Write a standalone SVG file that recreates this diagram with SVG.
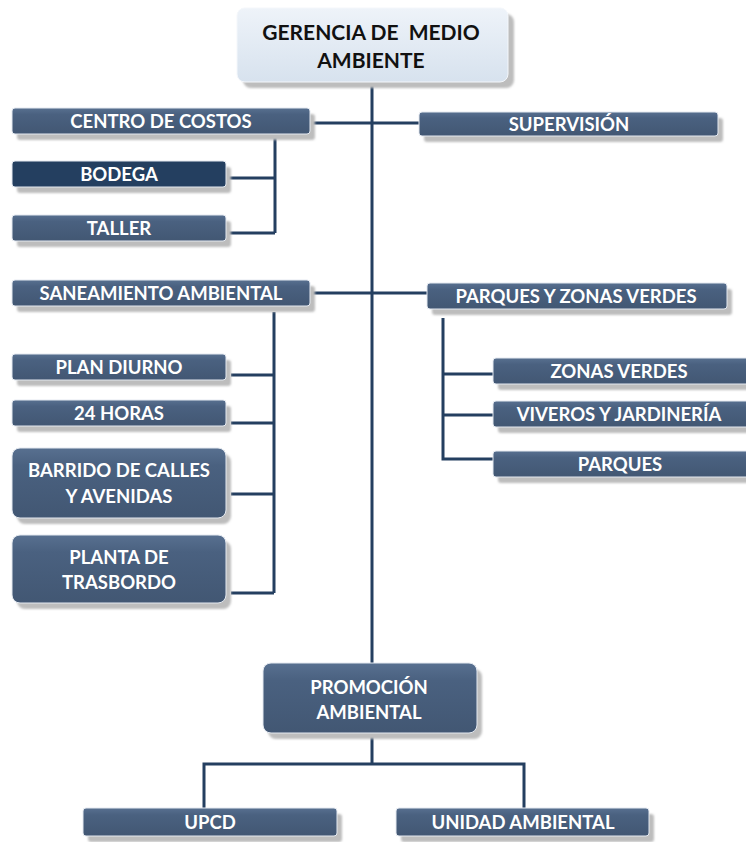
<svg xmlns="http://www.w3.org/2000/svg" width="746" height="842" viewBox="0 0 746 842">
<defs>
<linearGradient id="g" x1="0" y1="0" x2="0" y2="1">
<stop offset="0" stop-color="#587090"/>
<stop offset="0.25" stop-color="#4a6180"/>
<stop offset="1" stop-color="#425773"/>
</linearGradient>
<linearGradient id="gl" x1="0" y1="0" x2="0" y2="1">
<stop offset="0" stop-color="#eef3f9"/>
<stop offset="1" stop-color="#d7e2ee"/>
</linearGradient>
<filter id="b" x="-5%" y="-20%" width="110%" height="140%"><feGaussianBlur stdDeviation="0.8"/></filter>
</defs>
<style>
.box{fill:url(#g);stroke:#e4e9f0;stroke-width:1}
.dark{fill:#243f60;stroke:#e4e9f0;stroke-width:1}
.sh{fill:#bdbdbd;filter:url(#b)}
.t{font-family:Lato,"Open Sans",sans-serif;font-weight:700;font-size:18.5px;fill:#fff;text-anchor:middle}
.tk{font-family:Lato,"Open Sans",sans-serif;font-weight:700;font-size:21px;fill:#111;text-anchor:middle}
.c{stroke:#243f60;stroke-width:3;fill:none}
</style>
<g id="connectors">
<path class="c" d="M372 82V764"/>
<path class="c" d="M313 123H419"/>
<path class="c" d="M275 137V233M229 178H275M229 233H275"/>
<path class="c" d="M313 293H427"/>
<path class="c" d="M274 312V593M231 375H274M231 423H274M231 494H274M231 593H274"/>
<path class="c" d="M443 318V459H493M443 374H493M443 415H493"/>
<path class="c" d="M204 808V764H524V808"/>
</g>
<g id="gerencia">
<rect class="sh" x="243" y="14" width="271" height="74" rx="8"/>
<rect x="237" y="8" width="271" height="74" rx="8" fill="url(#gl)" stroke="#f4f7fb"/>
<text class="tk" x="371" y="40" xml:space="preserve">GERENCIA DE  MEDIO</text>
<text class="tk" x="371" y="68">AMBIENTE</text>
</g>
<g id="centro">
<rect class="sh" x="17" y="114" width="298" height="26" rx="3"/>
<rect class="box" x="12" y="108" width="298" height="26" rx="3"/>
<text class="t" x="161" y="128">CENTRO DE COSTOS</text>
</g>
<g id="supervision">
<rect class="sh" x="424" y="118" width="299" height="24" rx="3"/>
<rect class="box" x="419" y="112" width="299" height="24" rx="3"/>
<text class="t" x="569" y="131">SUPERVISIÓN</text>
</g>
<g id="bodega">
<rect class="sh" x="17" y="167" width="214" height="26" rx="3"/>
<rect class="dark" x="12" y="161" width="214" height="26" rx="3"/>
<text class="t" x="119" y="181">BODEGA</text>
</g>
<g id="taller">
<rect class="sh" x="17" y="221" width="214" height="26" rx="3"/>
<rect class="box" x="12" y="215" width="214" height="26" rx="3"/>
<text class="t" x="119" y="235">TALLER</text>
</g>
<g id="saneamiento">
<rect class="sh" x="17" y="286" width="298" height="26" rx="3"/>
<rect class="box" x="12" y="280" width="298" height="26" rx="3"/>
<text class="t" x="161" y="300">SANEAMIENTO AMBIENTAL</text>
</g>
<g id="parques-zonas">
<rect class="sh" x="432" y="289" width="300" height="26" rx="3"/>
<rect class="box" x="427" y="283" width="300" height="26" rx="3"/>
<text class="t" x="576" y="303">PARQUES Y ZONAS VERDES</text>
</g>
<g id="plan-diurno">
<rect class="sh" x="17" y="360" width="214" height="26" rx="3"/>
<rect class="box" x="12" y="354" width="214" height="26" rx="3"/>
<text class="t" x="119" y="374">PLAN DIURNO</text>
</g>
<g id="horas">
<rect class="sh" x="17" y="406" width="214" height="26" rx="3"/>
<rect class="box" x="12" y="400" width="214" height="26" rx="3"/>
<text class="t" x="119" y="420">24 HORAS</text>
</g>
<g id="barrido">
<rect class="sh" x="17" y="454" width="214" height="70" rx="8"/>
<rect class="box" x="12" y="448" width="214" height="70" rx="8"/>
<text class="t" x="119" y="477">BARRIDO DE CALLES</text>
<text class="t" x="119" y="503">Y AVENIDAS</text>
</g>
<g id="planta">
<rect class="sh" x="17" y="541" width="214" height="68" rx="8"/>
<rect class="box" x="12" y="535" width="214" height="68" rx="8"/>
<text class="t" x="119" y="564">PLANTA DE</text>
<text class="t" x="119" y="589">TRASBORDO</text>
</g>
<g id="zonas-verdes">
<rect class="sh" x="498" y="364" width="255" height="26" rx="3"/>
<rect class="box" x="493" y="358" width="257" height="26" rx="3"/>
<text class="t" x="619" y="378">ZONAS VERDES</text>
</g>
<g id="viveros">
<rect class="sh" x="498" y="407" width="255" height="26" rx="3"/>
<rect class="box" x="493" y="401" width="257" height="26" rx="3"/>
<text class="t" x="619" y="421">VIVEROS Y JARDINERÍA</text>
</g>
<g id="parques">
<rect class="sh" x="498" y="457" width="255" height="26" rx="3"/>
<rect class="box" x="493" y="451" width="257" height="26" rx="3"/>
<text class="t" x="620" y="471">PARQUES</text>
</g>
<g id="promocion">
<rect class="sh" x="268" y="669" width="214" height="70" rx="8"/>
<rect class="box" x="263" y="663" width="214" height="70" rx="8"/>
<text class="t" x="369" y="694">PROMOCIÓN</text>
<text class="t" x="369" y="719">AMBIENTAL</text>
</g>
<g id="upcd">
<rect class="sh" x="88" y="814" width="254" height="28" rx="3"/>
<rect class="box" x="83" y="808" width="254" height="28" rx="3"/>
<text class="t" x="210" y="829">UPCD</text>
</g>
<g id="unidad">
<rect class="sh" x="401" y="814" width="253" height="28" rx="3"/>
<rect class="box" x="396" y="808" width="253" height="28" rx="3"/>
<text class="t" x="523" y="829">UNIDAD AMBIENTAL</text>
</g>
</svg>
